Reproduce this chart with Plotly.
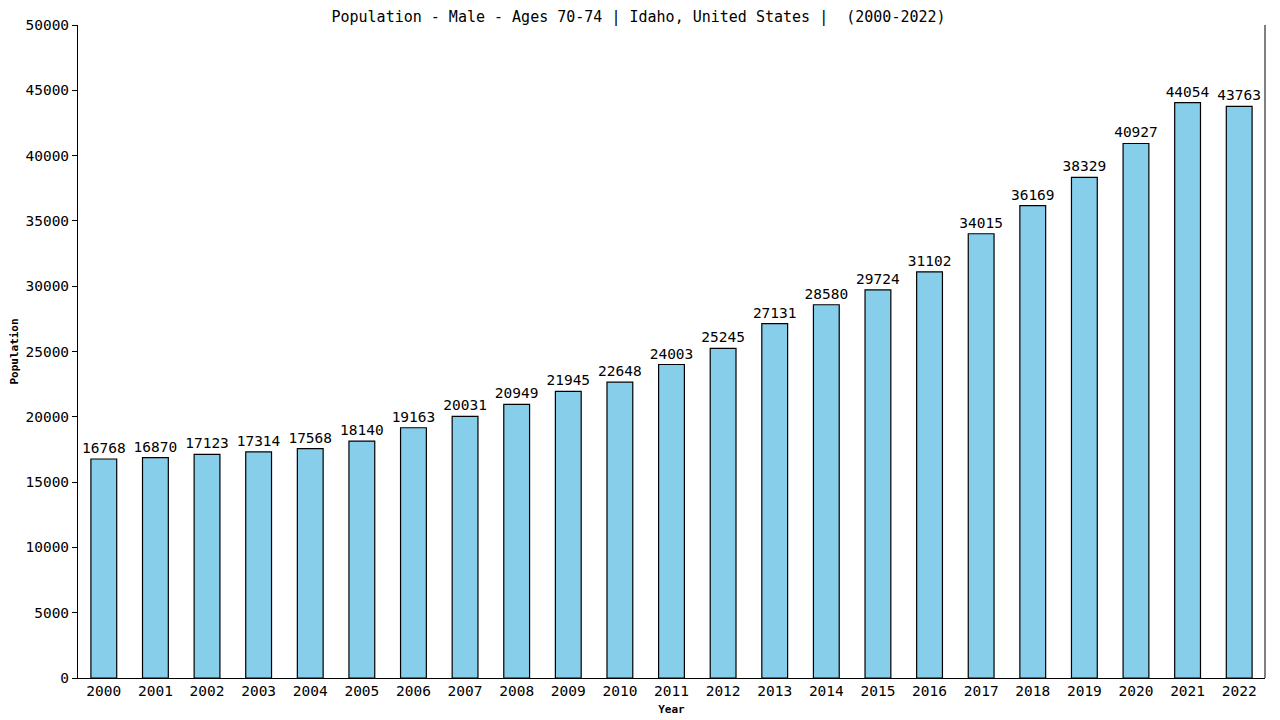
import plotly.graph_objects as go

years = [str(y) for y in range(2000, 2023)]
population = [16768, 16870, 17123, 17314, 17568, 18140, 19163, 20031, 20949, 21945,
              22648, 24003, 25245, 27131, 28580, 29724, 31102, 34015, 36169, 38329,
              40927, 44054, 43763]
y_ticks = list(range(0, 50001, 5000))

FONT = "DejaVu Sans Mono"

fig = go.Figure(go.Bar(
    x=years, y=population,
    text=[str(v) for v in population], textposition="outside",
    textfont=dict(family=FONT, size=14.5, color="black"),
    constraintext="none",
    cliponaxis=False,
    marker=dict(color="#87CEEB", line=dict(color="black", width=1.2)),
    width=0.5,
))

fig.update_layout(
    width=1280, height=720,
    margin=dict(l=70, r=23, t=17, b=50, autoexpand=False),
    paper_bgcolor="white", plot_bgcolor="white",
    title=dict(text="Population - Male - Ages 70-74 | Idaho, United States |  (2000-2022)",
               xref="container", x=0.4926, xanchor="center",
               yref="container", y=1.0, yanchor="top", pad=dict(t=3, b=0),
               font=dict(family=FONT, size=15, color="black")),
    font=dict(family=FONT, color="black"),
    showlegend=False,
)
fig.update_xaxes(
    type="category", range=[-0.5, 22.5], automargin=False,
    showline=True, linecolor="black", linewidth=1, mirror=False,
    showgrid=False, ticks="", tickfont=dict(family=FONT, size=14.5),
    title=dict(text="<b>Year</b>", font=dict(family=FONT, size=11), standoff=6),
)
fig.update_yaxes(
    range=[0, 50000], tickvals=y_ticks, ticktext=[str(v) for v in y_ticks],
    automargin=False,
    showline=True, linecolor="black", linewidth=1,
    showgrid=False, zeroline=False, ticks="outside", ticklen=5, tickcolor="black",
    tickfont=dict(family=FONT, size=14.5),
    title=dict(text="<b>Population</b>", font=dict(family=FONT, size=11), standoff=8),
)
# right border line
fig.add_shape(type="line", xref="paper", yref="paper", x0=1, x1=1, y0=0, y1=1,
              line=dict(color="black", width=1))

fig.write_html("out.html")
